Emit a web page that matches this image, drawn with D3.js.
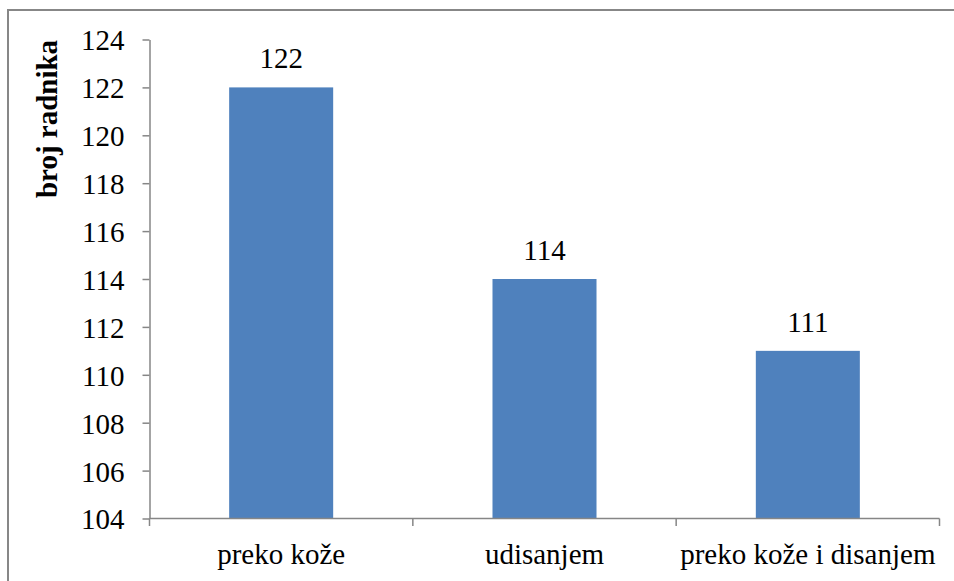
<!DOCTYPE html>
<html>
<head>
<meta charset="utf-8">
<script src="https://cdn.jsdelivr.net/npm/d3@7"></script>
<style>
  body { margin: 0; background: #fff; }
</style>
</head>
<body>
<div id="chart"></div>
<script>
// data
const categories = ["preko kože", "udisanjem", "preko kože i disanjem"];
const values = [122, 114, 111];
const yTicks = [104, 106, 108, 110, 112, 114, 116, 118, 120, 122, 124];
const yTitle = "broj radnika";

var width = 954;
var height = 581;
var font = "'Liberation Serif', 'DejaVu Serif', serif";
var fontSize = "29px";

var svg = d3
  .select("#chart")
  .append("svg")
  .attr("width", width)
  .attr("height", height);

/* outer frame */
svg
  .append("rect")
  .attr("x", 8)
  .attr("y", 10)
  .attr("width", 960)
  .attr("height", 600)
  .attr("fill", "none")
  .attr("stroke", "#878787")
  .attr("stroke-width", 2);

/* Scale */
var xScale = d3
  .scaleBand()
  .domain(categories)
  .range([149.5, 939.5])
  .paddingInner(0.605)
  .paddingOuter(0.3025);

var yScale = d3.scaleLinear().domain([104, 124]).range([518.5, 39.5]);

/* bars */
svg
  .append("g")
  .selectAll("rect")
  .data(values)
  .enter()
  .append("rect")
  .attr("x", (d, i) => xScale(categories[i]))
  .attr("y", (d) => yScale(d))
  .attr("width", xScale.bandwidth())
  .attr("height", (d) => yScale(104) - yScale(d))
  .attr("fill", "#4F81BD");

/* value labels */
svg
  .append("g")
  .selectAll("text")
  .data(values)
  .enter()
  .append("text")
  .attr("x", (d, i) => xScale(categories[i]) + xScale.bandwidth() / 2)
  .attr("y", (d) => yScale(d) - 19)
  .attr("text-anchor", "middle")
  .style("font-family", font)
  .style("font-size", fontSize)
  .style("fill", "#000")
  .text((d) => d);

/* y axis */
var yAxis = d3
  .axisLeft(yScale)
  .tickValues(yTicks)
  .tickSize(7)
  .tickPadding(18)
  .tickSizeOuter(0);

var yG = svg
  .append("g")
  .attr("transform", "translate(149.5,0)")
  .call(yAxis);
yG.selectAll("path, line").attr("stroke", "#868686").attr("stroke-width", 1.5);
yG
  .selectAll("text")
  .style("font-family", font)
  .style("font-size", fontSize)
  .style("fill", "#000")
  .attr("dy", "0.36em");

/* x axis: ticks between categories */
var step = xScale.step();
var bounds = [149.5, 149.5 + step, 149.5 + 2 * step, 939.5];
var xG = svg.append("g");
xG
  .append("line")
  .attr("x1", 149.5)
  .attr("x2", 939.5)
  .attr("y1", 518.5)
  .attr("y2", 518.5)
  .attr("stroke", "#868686")
  .attr("stroke-width", 1.5);
xG
  .selectAll(".tick")
  .data(bounds)
  .enter()
  .append("line")
  .attr("x1", (d) => d)
  .attr("x2", (d) => d)
  .attr("y1", 518.5)
  .attr("y2", 526)
  .attr("stroke", "#868686")
  .attr("stroke-width", 1.5);
xG
  .selectAll("text")
  .data(categories)
  .enter()
  .append("text")
  .attr("x", (d) => xScale(d) + xScale.bandwidth() / 2)
  .attr("y", 564)
  .attr("text-anchor", "middle")
  .style("font-family", font)
  .style("font-size", fontSize)
  .style("fill", "#000")
  .text((d) => d);

/* y title */
svg
  .append("text")
  .attr("transform", "translate(57,119) rotate(-90)")
  .attr("text-anchor", "middle")
  .style("font-family", font)
  .style("font-size", fontSize)
  .style("font-weight", "bold")
  .style("fill", "#000")
  .text(yTitle);
</script>
</body>
</html>
